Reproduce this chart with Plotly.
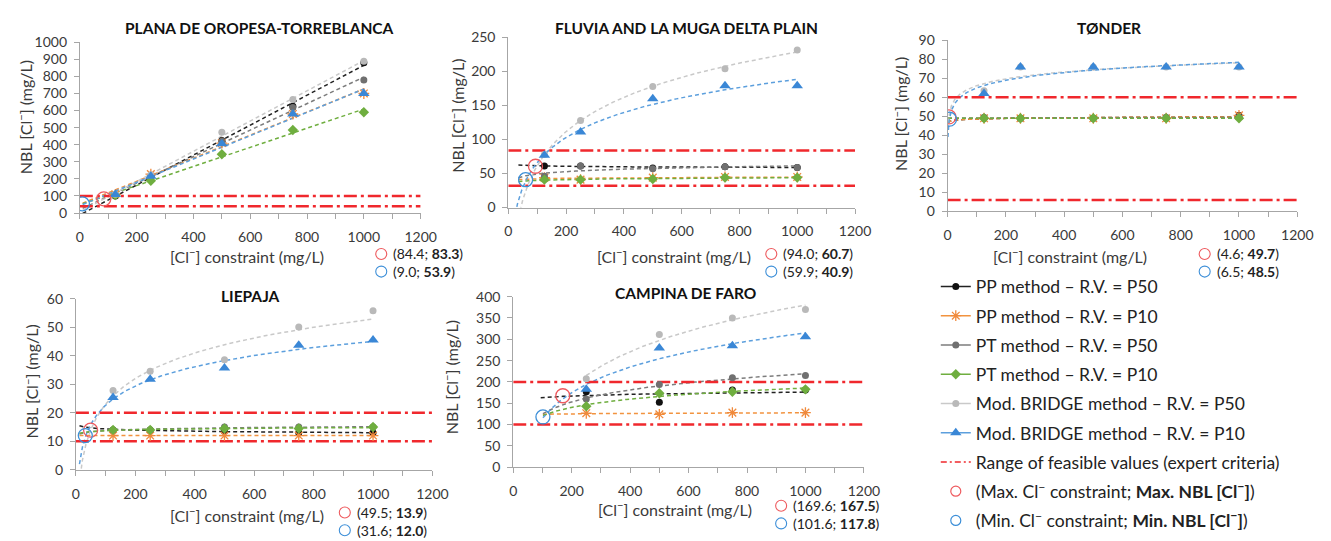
import numpy as np
import plotly.graph_objects as go

W, H = 1331, 541
FONT = "Lato"

# Cl- constraint scenarios (mg/L)
x_std = [125, 250, 500, 750, 1000]
x_faro = [250, 500, 750, 1000]

# PLANA DE OROPESA-TORREBLANCA  (NBL [Cl-], mg/L)
plana_pp50 = [100, 215, 425, 625, 880]
plana_pp10 = [110, 228, 410, 580, 700]
plana_pt50 = [105, 215, 420, 618, 779]
plana_pt10 = [105, 189, 344, 486, 590]
plana_br50 = [110, 225, 473, 665, 888]
plana_br10 = [108, 216, 406, 580, 700]
plana_range = [40, 100]
plana_max = [84.4, 83.3]
plana_min = [9.0, 53.9]

# FLUVIA AND LA MUGA DELTA PLAIN
fluv_pp50 = [61, 61, 58, 60, 59]
fluv_pp10 = [44, 41, 44, 45, 45]
fluv_pt50 = [46, 61, 57, 60, 59]
fluv_pt10 = [41, 41, 42, 44, 44]
fluv_br50 = [78, 128, 178, 204, 231.5]
fluv_br10 = [77, 111, 160, 179, 179]
fluv_range = [32, 84]
fluv_max = [94.0, 60.7]
fluv_min = [59.9, 40.9]

# TØNDER
tond_pp50 = [49, 49, 49, 49, 50.5]
tond_pp10 = [49, 49, 49, 49, 50.5]
tond_pt50 = [49.5, 49, 49, 49.5, 49.5]
tond_pt10 = [49, 49, 49, 49, 49]
tond_br50 = [63.5, 76, 76, 76, 76]
tond_br10 = [62, 76, 76, 76, 76]
tond_range = [6, 60]
tond_max = [4.6, 49.7]
tond_min = [6.5, 48.5]

# LIEPAJA
liep_pp50 = [14, 14, 13.5, 13, 13]
liep_pp10 = [12, 12, 12, 12, 12]
liep_pt50 = [14, 14, 15, 15, 15]
liep_pt10 = [14, 14, 14.5, 14.5, 15]
liep_br50 = [27.8, 34.6, 38.6, 50.1, 55.8]
liep_br10 = [25.4, 31.8, 35.7, 43.7, 45.6]
liep_range = [10, 20]
liep_max = [49.5, 13.9]
liep_min = [31.6, 12.0]

# CAMPINA DE FARO
faro_pp50 = [177, 152, 181, 181]
faro_pp10 = [126.5, 124, 128, 128]
faro_pt50 = [160, 194, 210, 215]
faro_pt10 = [143, 173.5, 177, 182.5]
faro_br50 = [207.5, 311, 350, 370]
faro_br10 = [182.5, 279.5, 285, 306]
faro_range = [100, 200]
faro_max = [169.6, 167.5]
faro_min = [101.6, 117.8]

# ---------------------------------------------------------------- styles
KEYS = ["pp50", "pp10", "pt50", "pt10", "br50", "br10"]
NAMES = {
    "pp50": "PP method – R.V. = P50",
    "pp10": "PP method – R.V. = P10",
    "pt50": "PT method – R.V. = P50",
    "pt10": "PT method – R.V. = P10",
    "br50": "Mod. BRIDGE method – R.V. = P50",
    "br10": "Mod. BRIDGE method – R.V. = P10",
}
MARKERS = {
    "pp50": dict(symbol="circle", size=7, color="#111111"),
    "pp10": dict(symbol="asterisk-open", size=9, color="#F08A3C",
                 line=dict(color="#F08A3C", width=1.3)),
    "pt50": dict(symbol="circle", size=7, color="#707070"),
    "pt10": dict(symbol="diamond", size=8, color="#6FAE3F"),
    "br50": dict(symbol="circle", size=7, color="#B9B9B9"),
    "br10": dict(symbol="triangle-up", size=10, color="#3A87D6"),
}
TREND_COL = {
    "pp50": "#222222", "pp10": "#F2933F", "pt50": "#7C7C7C",
    "pt10": "#6FAE3F", "br50": "#C9C9C9", "br10": "#5C9FDD",
}
RED = "#F0282D"
RED_C = "#EE5A5E"
BLUE_C = "#3D8FD8"
DASH_TREND = "4px,3px"
DASH_RANGE = "13px,4px,3px,4px"

PANELS = [
    dict(title="PLANA DE OROPESA-TORREBLANCA", x=x_std,
         data=dict(pp50=plana_pp50, pp10=plana_pp10, pt50=plana_pt50,
                   pt10=plana_pt10, br50=plana_br50, br10=plana_br10),
         kind="lin", start=dict.fromkeys(KEYS, 10),
         rng=plana_range, mx=plana_max, mn=plana_min,
         ymax=1000, dtick=100, box=(77, 34.3, 423, 210.7),
         title_xy=(259, 20), xt_xy=(247, 254), yt_xy=(21, 112),
         lab_xy=(377, 262)),
    dict(title="FLUVIA AND LA MUGA DELTA PLAIN", x=x_std,
         data=dict(pp50=fluv_pp50, pp10=fluv_pp10, pt50=fluv_pt50,
                   pt10=fluv_pt10, br50=fluv_br50, br10=fluv_br10),
         kind="log", start=dict(pp50=35, pp10=35, pt50=35, pt10=35,
                                br50=20, br10=20),
         rng=fluv_range, mx=fluv_max, mn=fluv_min,
         ymax=250, dtick=50, box=(512, 29.3, 864, 205),
         title_xy=(693, 20), xt_xy=(680, 254), yt_xy=(460, 110),
         lab_xy=(773, 262)),
    dict(title="TØNDER", x=x_std,
         data=dict(pp50=tond_pp50, pp10=tond_pp10, pt50=tond_pt50,
                   pt10=tond_pt10, br50=tond_br50, br10=tond_br10),
         kind="log", start=dict.fromkeys(KEYS, 1.2),
         rng=tond_range, mx=tond_max, mn=tond_min,
         ymax=90, dtick=10, box=(958, 32.3, 1313, 209),
         title_xy=(1122, 20), xt_xy=(1082, 254), yt_xy=(910, 108),
         lab_xy=(1213, 262)),
    dict(title="LIEPAJA", x=x_std,
         data=dict(pp50=liep_pp50, pp10=liep_pp10, pt50=liep_pt50,
                   pt10=liep_pt10, br50=liep_br50, br10=liep_br10),
         kind="log", start=dict.fromkeys(KEYS, 12),
         rng=liep_range, mx=liep_max, mn=liep_min,
         ymax=60, dtick=10, box=(73, 299.3, 435, 475.7),
         title_xy=(250, 296), xt_xy=(247, 522), yt_xy=(28, 385),
         lab_xy=(340, 529)),
    dict(title="CAMPINA DE FARO", x=x_faro,
         data=dict(pp50=faro_pp50, pp10=faro_pp10, pt50=faro_pt50,
                   pt10=faro_pt10, br50=faro_br50, br10=faro_br10),
         kind="log", start=dict(pp50=94, pp10=101.6, pt50=101.6,
                                pt10=101.6, br50=250, br10=101.6),
         rng=faro_range, mx=faro_max, mn=faro_min,
         ymax=400, dtick=50, box=(517, 297, 873, 473),
         title_xy=(692, 293), xt_xy=(681, 516), yt_xy=(453, 380),
         lab_xy=(783, 522)),
]


def trendline(x, y, kind, x0):
    """Least-squares trendline (linear or logarithmic) over [x0, max(x)]."""
    x = np.asarray(x, float)
    y = np.asarray(y, float)
    if kind == "lin":
        a, b = np.polyfit(x, y, 1)
        xs = np.array([x0, x.max()])
        return xs, a * xs + b
    a, b = np.polyfit(np.log(x), y, 1)
    xs = np.geomspace(x0, x.max(), 160)
    return xs, a * np.log(xs) + b


def px(xp):
    return xp / W


def py(yp):
    return 1 - yp / H


fig = go.Figure()
annotations = []
shapes = []
axis_font = dict(family=FONT, size=14, color="#3a3a3a")

for i, p in enumerate(PANELS, start=1):
    xa, ya = f"x{i}", f"y{i}"
    # trendlines
    for k in KEYS:
        xs, ys = trendline(p["x"], p["data"][k], p["kind"], p["start"][k])
        fig.add_trace(go.Scatter(
            x=xs, y=ys, mode="lines", xaxis=xa, yaxis=ya, showlegend=False,
            hoverinfo="skip",
            line=dict(color=TREND_COL[k], width=1.5, dash=DASH_TREND)))
    # feasible range (expert criteria)
    for v in p["rng"]:
        fig.add_trace(go.Scatter(
            x=[0, 1200], y=[v, v], mode="lines", xaxis=xa, yaxis=ya,
            showlegend=False, hoverinfo="skip",
            line=dict(color=RED, width=2.5, dash=DASH_RANGE)))
    # method results
    for k in KEYS:
        fig.add_trace(go.Scatter(
            x=p["x"], y=p["data"][k], mode="markers", xaxis=xa, yaxis=ya,
            showlegend=False, marker=MARKERS[k], name=NAMES[k]))
    # max / min points
    fig.add_trace(go.Scatter(
        x=[p["mx"][0]], y=[p["mx"][1]], mode="markers", xaxis=xa, yaxis=ya,
        showlegend=False, marker=dict(symbol="circle-open", size=14,
                                      color=RED_C, line=dict(width=1.3))))
    fig.add_trace(go.Scatter(
        x=[p["mn"][0]], y=[p["mn"][1]], mode="markers", xaxis=xa, yaxis=ya,
        showlegend=False, marker=dict(symbol="circle-open", size=14,
                                      color=BLUE_C, line=dict(width=1.3))))

    x0, y0, x1, y1 = p["box"]
    sfx = "" if i == 1 else str(i)
    fig.layout[f"xaxis{sfx}"] = dict(
        domain=[px(x0), px(x1)], anchor=ya, range=[0, 1200], dtick=200,
        showline=True, linecolor="#A6A6A6", linewidth=1, showgrid=False,
        zeroline=False, ticks="outside", ticklen=5, tickcolor="#A6A6A6",
        minor=dict(dtick=100, ticks="outside", ticklen=5,
                   tickcolor="#A6A6A6", showgrid=False),
        tickfont=axis_font, ticklabelstandoff=6, fixedrange=True)
    fig.layout[f"yaxis{sfx}"] = dict(
        domain=[py(y1), py(y0)], anchor=xa, range=[0, p["ymax"]],
        dtick=p["dtick"], showline=True, linecolor="#A6A6A6", linewidth=1,
        showgrid=False, zeroline=False, ticks="outside", ticklen=5,
        tickcolor="#A6A6A6", tickfont=axis_font, ticklabelstandoff=4,
        fixedrange=True)

    tx, ty = p["title_xy"]
    annotations.append(dict(
        x=px(tx), y=py(ty), xref="paper", yref="paper", showarrow=False,
        text=f"<b>{p['title']}</b>", xanchor="center", yanchor="middle",
        font=dict(family=FONT, size=15.5, color="#111111")))
    ax_, ay_ = p["xt_xy"]
    annotations.append(dict(
        x=px(ax_), y=py(ay_), xref="paper", yref="paper", showarrow=False,
        text="[Cl<sup>−</sup>] constraint (mg/L)", xanchor="center",
        yanchor="middle", font=dict(family=FONT, size=16, color="#3a3a3a")))
    bx, by = p["yt_xy"]
    annotations.append(dict(
        x=px(bx), y=py(by), xref="paper", yref="paper", showarrow=False,
        text="NBL [Cl<sup>−</sup>] (mg/L)", textangle=-90, xanchor="center",
        yanchor="middle", font=dict(family=FONT, size=16, color="#3a3a3a")))
    # max / min labels: small open circle keys + two text lines
    lx, ly = p["lab_xy"]
    for dy, col in ((-9.1, RED_C), (9.1, BLUE_C)):
        shapes.append(dict(
            type="circle", xref="paper", yref="paper",
            xsizemode="pixel", ysizemode="pixel",
            xanchor=px(lx + 6), yanchor=py(ly + dy),
            x0=-5.5, x1=5.5, y0=-5.5, y1=5.5,
            line=dict(color=col, width=1.1), fillcolor="rgba(0,0,0,0)"))
    lines = [f"({cx:.1f}; <b>{cy:.1f}</b>)" for cx, cy in (p["mx"], p["mn"])]
    annotations.append(dict(
        x=px(lx + 16), y=py(ly), xref="paper", yref="paper",
        showarrow=False, xanchor="left", yanchor="middle", align="left",
        text="<br>".join(lines),
        font=dict(family=FONT, size=14, color="#222222")))

# legend entries
for j, k in enumerate(KEYS):
    fig.add_trace(go.Scatter(
        x=[None], y=[None], mode="lines+markers", name=NAMES[k],
        legendgroup=f"g{j}", marker=dict(MARKERS[k]),
        line=dict(color=TREND_COL[k], width=1.6)))
fig.add_trace(go.Scatter(
    x=[None], y=[None], mode="lines", legendgroup="g6",
    name="Range of feasible values (expert criteria)",
    line=dict(color=RED, width=1.6, dash="6px,3px,2px,3px")))
fig.add_trace(go.Scatter(
    x=[None], y=[None], mode="markers", legendgroup="g7",
    name="(Max. Cl<sup>−</sup> constraint; <b>Max. NBL [Cl<sup>−</sup>]</b>)",
    marker=dict(symbol="circle-open", size=10, color=RED_C,
                line=dict(width=1.2))))
fig.add_trace(go.Scatter(
    x=[None], y=[None], mode="markers", legendgroup="g8",
    name="(Min. Cl<sup>−</sup> constraint; <b>Min. NBL [Cl<sup>−</sup>]</b>)",
    marker=dict(symbol="circle-open", size=10, color=BLUE_C,
                line=dict(width=1.2))))

fig.update_layout(
    width=W, height=H, autosize=False,
    margin=dict(l=0, r=0, t=0, b=0),
    paper_bgcolor="white", plot_bgcolor="white",
    font=dict(family=FONT, color="#222222"),
    annotations=annotations,
    shapes=shapes,
    showlegend=True,
    legend=dict(x=px(946), y=py(268), xanchor="left", yanchor="top",
                font=dict(family=FONT, size=17.5, color="#222222"),
                bgcolor="rgba(0,0,0,0)", traceorder="grouped",
                tracegroupgap=3.5),
)

fig.write_html("out.html")
